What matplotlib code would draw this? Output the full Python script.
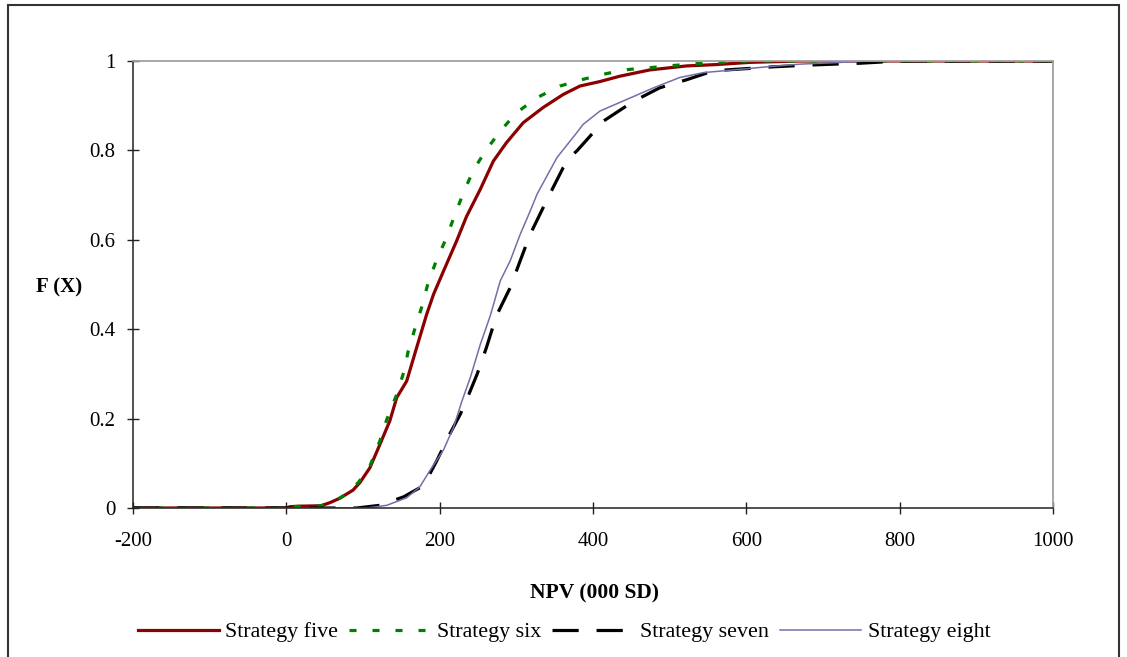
import matplotlib
matplotlib.use("Agg")
import matplotlib.pyplot as plt
from matplotlib.patches import Rectangle

plt.rcParams["font.family"] = ["Liberation Serif", "DejaVu Serif"]
plt.rcParams["axes.unicode_minus"] = False

# ---------------------------------------------------------------- data
# NPV (000 SD) vs cumulative probability F(X)
x_five = [-200, 0, 5, 15, 45, 57, 70, 87, 96, 109, 122, 135, 144, 157, 170, 183,
          192, 205, 222, 235, 253, 270, 287, 309, 335, 361, 383, 409, 435, 474,
          522, 561, 605, 670, 1000]
f_five = [0, 0, 0.003, 0.004, 0.005, 0.012, 0.022, 0.04, 0.057, 0.09, 0.142,
          0.195, 0.247, 0.284, 0.359, 0.433, 0.478, 0.530, 0.597, 0.652, 0.713,
          0.776, 0.817, 0.862, 0.896, 0.925, 0.944, 0.954, 0.966, 0.98, 0.989,
          0.992, 0.997, 1.0, 1.0]

x_six = [-200, 0, 10, 45, 60, 75, 94, 109, 122, 131, 144, 153, 159, 168, 177,
         185, 196, 209, 220, 231, 244, 261, 280, 300, 327, 357, 387, 418, 446,
         474, 505, 535, 563, 600, 1000]
f_six = [0, 0, 0.003, 0.005, 0.012, 0.028, 0.057, 0.094, 0.15, 0.198, 0.254,
         0.303, 0.351, 0.403, 0.452, 0.504, 0.555, 0.605, 0.657, 0.705, 0.756,
         0.802, 0.845, 0.884, 0.918, 0.944, 0.959, 0.972, 0.981, 0.985, 0.99,
         0.994, 0.996, 1.0, 1.0]

x_seven = [-200, 92, 122, 153, 179, 196, 213, 227, 238, 249, 261, 274, 292, 305,
           318, 335, 348, 361, 374, 379, 414, 453, 487, 522, 557, 574, 635, 683,
           748, 800, 1000]
f_seven = [0, 0, 0.006, 0.025, 0.05, 0.105, 0.165, 0.21, 0.254, 0.3, 0.359,
           0.43, 0.493, 0.553, 0.612, 0.672, 0.717, 0.761, 0.791, 0.799, 0.866,
           0.91, 0.94, 0.958, 0.978, 0.98, 0.987, 0.991, 0.995, 1.0, 1.0]

x_eight = [-200, 105, 131, 157, 174, 187, 205, 218, 229, 240, 253, 266, 279,
           292, 305, 318, 327, 340, 353, 366, 379, 387, 409, 444, 479, 513, 544,
           583, 627, 670, 713, 757, 1000]
f_eight = [0, 0, 0.006, 0.023, 0.047, 0.083, 0.13, 0.18, 0.239, 0.292, 0.366,
           0.43, 0.508, 0.553, 0.612, 0.664, 0.702, 0.743, 0.784, 0.812, 0.84,
           0.858, 0.888, 0.914, 0.94, 0.963, 0.974, 0.98, 0.987, 0.993, 0.996,
           1.0, 1.0]

x_ticks = [-200, 0, 200, 400, 600, 800, 1000]
y_ticks = [0, 0.2, 0.4, 0.6, 0.8, 1]
y_tick_labels = ["0", "0.2", "0.4", "0.6", "0.8", "1"]

# ---------------------------------------------------------------- figure
W, H = 1127, 657
fig = plt.figure(figsize=(W / 100, H / 100), dpi=100)
ax = fig.add_axes([133 / W, 1 - 508 / H, 920 / W, 447 / H])

ax.plot(x_five, f_five, color="#8B0000", lw=2.3, label="Strategy five")
ax.plot(x_six, f_six, color="#008000", lw=2.3, dashes=(2.2, 5.0),
        label="Strategy six")
ax.plot(x_seven, f_seven, color="black", lw=2.3, dashes=(8.2, 5.6),
        label="Strategy seven")
ax.plot(x_eight, f_eight, color="#7070A8", lw=1.1, label="Strategy eight")

ax.set_xlim(-200, 1000)
ax.set_ylim(0, 1)
ax.set_xticks(x_ticks)
ax.set_yticks(y_ticks)
ax.set_yticklabels(y_tick_labels)
ax.tick_params(direction="inout", length=8.5, width=1, labelsize=15,
               color="#222222")
ax.tick_params(axis="y", pad=8.5)
ax.tick_params(axis="x", pad=13)

for side in ("left", "bottom"):
    ax.spines[side].set_color("#222222")
    ax.spines[side].set_linewidth(1.1)
for side in ("top", "right"):
    ax.spines[side].set_color("#A0A0A0")
    ax.spines[side].set_linewidth(1.3)

ax.set_xlabel("NPV (000 SD)", fontsize=15.5, fontweight="bold")
ax.xaxis.set_label_coords((595 - 133) / 920, (508 - 583) / 447)
ax.set_ylabel("F (X)", fontsize=15, fontweight="bold", rotation=0,
              va="center", ha="center")
ax.yaxis.set_label_coords((59 - 133) / 920, (508 - 287) / 447)

fig.legend(loc="center", bbox_to_anchor=(564 / W, 1 - 632 / H), ncol=4,
           frameon=False, fontsize=15.8, handlelength=3.7, handletextpad=0.3,
           columnspacing=0.5)

# chart area border
fig.patches.append(Rectangle((8 / W, -3 / H), (1119 - 8) / W, (655) / H,
                             transform=fig.transFigure, fill=False,
                             edgecolor="#333333", lw=1.5))

fig.savefig("out.png", dpi=100)
